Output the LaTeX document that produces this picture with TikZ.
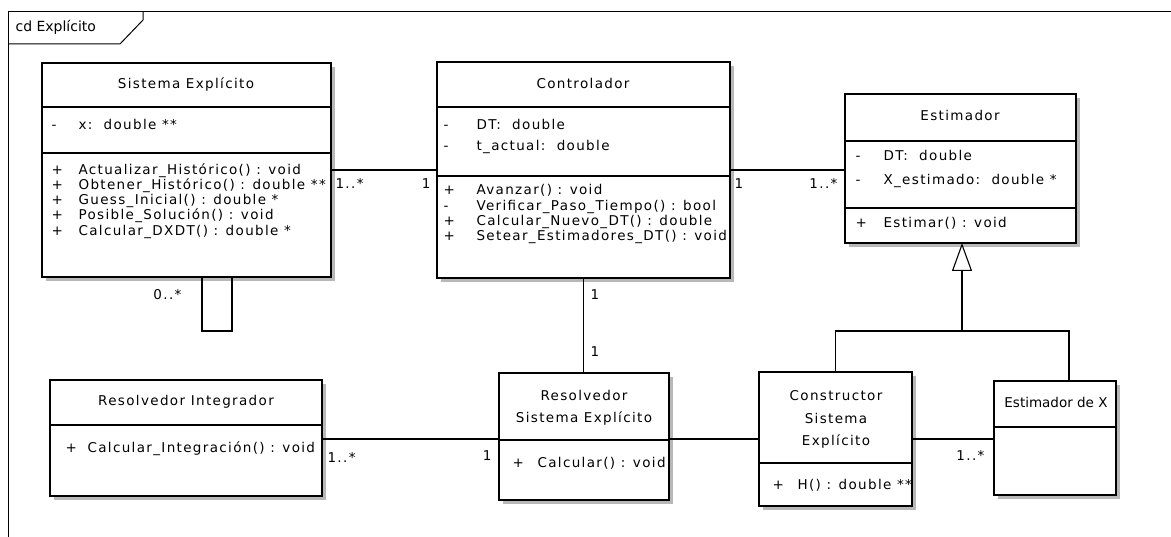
\documentclass[tikz,border=0pt]{standalone}
\usepackage{fontspec}
\newfontfamily\umlf[LetterSpace=10]{DejaVu Sans}
\newfontfamily\umlt[LetterSpace=0]{DejaVu Sans}
\usetikzlibrary{arrows.meta,shadows,calc}
\begin{document}
\begin{tikzpicture}[x=1pt,y=-1pt,line width=1.1pt,
  font=\umlf\fontsize{13.5}{16}\selectfont,
  cls/.style={draw,fill=white,anchor=north west,inner sep=0pt,outer sep=0pt,
    drop shadow={shadow xshift=4pt,shadow yshift=-4pt,fill=black!28,opacity=1}},
  txt/.style={inner sep=0pt,anchor=mid west,text=black},
  ctxt/.style={inner sep=0pt,anchor=mid,text=black},
  multw/.style={inner sep=0pt,anchor=mid west,text=black},
  multe/.style={inner sep=0pt,anchor=mid east,text=black},
  gen/.style={-{Triangle[open,length=28pt,width=20pt]}},
]
\useasboundingbox (0,0) rectangle (1171,537);
% frame
\draw[line width=1pt] (8,537) -- (8,12) -- (1171,12);
\draw[line width=1pt] (8,44) -- (120,44) -- (143,20) -- (143,12);
\node[txt,font=\umlt\fontsize{14}{16}\selectfont] (flabel) at (15,29) {cd Explícito};

% classes
\node[cls,minimum width=289pt,minimum height=214pt] (se) at (42,63) {};
\node[cls,minimum width=293pt,minimum height=216pt] (ctl) at (437,62) {};
\node[cls,minimum width=231pt,minimum height=149pt] (est) at (845,94) {};
\node[cls,minimum width=272pt,minimum height=116pt] (ri) at (50,380) {};
\node[cls,minimum width=170pt,minimum height=127pt] (rse) at (499,373) {};
\node[cls,minimum width=153pt,minimum height=134pt] (cons) at (759,372) {};
\node[cls,minimum width=122pt,minimum height=114pt] (estx) at (994,381) {};

% compartments
\draw (se.west |- 0,107) -- (se.east |- 0,107);
\draw (se.west |- 0,153) -- (se.east |- 0,153);
\draw (ctl.west |- 0,107) -- (ctl.east |- 0,107);
\draw (ctl.west |- 0,176) -- (ctl.east |- 0,176);
\draw (est.west |- 0,141) -- (est.east |- 0,141);
\draw (est.west |- 0,208) -- (est.east |- 0,208);
\draw (ri.west |- 0,425) -- (ri.east |- 0,425);
\draw (rse.west |- 0,440) -- (rse.east |- 0,440);
\draw (cons.west |- 0,463) -- (cons.east |- 0,463);
\draw (estx.west |- 0,427) -- (estx.east |- 0,427);

% Sistema Explícito
\node[ctxt] (seh) at (186,86) {Sistema Explícito};
\node[txt] (sea1v) at (51,127) {-};
\node[txt] (sea1) at (78,127) {x:~~double **};
\node[txt] (sem1v) at (51,172) {+};
\node[txt] (sem1) at (78,172) {Actualizar\_Histórico() : void};
\node[txt] (sem2v) at (51,187) {+};
\node[txt] (sem2) at (78,187) {Obtener\_Histórico() : double **};
\node[txt] (sem3v) at (51,202) {+};
\node[txt] (sem3) at (78,202) {Guess\_Inicial() : double *};
\node[txt] (sem4v) at (51,217.5) {+};
\node[txt] (sem4) at (78,217.5) {Posible\_Solución() : void};
\node[txt] (sem5v) at (51,233) {+};
\node[txt] (sem5) at (78,233) {Calcular\_DXDT() : double *};

% Controlador
\node[ctxt] (ctlh) at (583,86) {Controlador};
\node[txt] (ca1v) at (443,127) {-};
\node[txt] (ca1) at (476,127) {DT:~~double};
\node[txt] (ca2v) at (443,148) {-};
\node[txt] (ca2) at (476,148) {t\_actual:~~double};
\node[txt] (cm1v) at (443,192) {+};
\node[txt] (cm1) at (476,192) {Avanzar() : void};
\node[txt] (cm2v) at (443,208) {-};
\node[txt] (cm2) at (476,208) {Verificar\_Paso\_Tiempo() : bool};
\node[txt] (cm3v) at (443,223) {+};
\node[txt] (cm3) at (476,223) {Calcular\_Nuevo\_DT() : double};
\node[txt] (cm4v) at (443,238) {+};
\node[txt] (cm4) at (476,238) {Setear\_Estimadores\_DT() : void};

% Estimador
\node[ctxt] (esth) at (960,118) {Estimador};
\node[txt] (ea1v) at (855,158) {-};
\node[txt] (ea1) at (883,158) {DT:~~double};
\node[txt] (ea2v) at (855,182) {-};
\node[txt] (ea2) at (883,182) {X\_estimado:~~double *};
\node[txt] (em1v) at (855,225) {+};
\node[txt] (em1) at (883,225) {Estimar() : void};

% Resolvedor Integrador
\node[ctxt] (rih) at (186,403) {Resolvedor Integrador};
\node[txt] (rim1v) at (65,450) {+};
\node[txt] (rim1) at (87,450) {Calcular\_Integración() : void};

% Resolvedor Sistema Explicito
\node[ctxt] (rseh1) at (584,398) {Resolvedor};
\node[ctxt] (rseh2) at (584,420) {Sistema Explícito};
\node[txt] (rsem1v) at (512,465) {+};
\node[txt] (rsem1) at (537,465) {Calcular() : void};

% Constructor
\node[ctxt] (consh1) at (836,398) {Constructor};
\node[ctxt] (consh2) at (836,421) {Sistema};
\node[ctxt] (consh3) at (836,443) {Explícito};
\node[txt] (consm1v) at (772,487) {+};
\node[txt] (consm1) at (797,487) {H() : double **};

% Estimador de X
\node[ctxt,font=\umlt\fontsize{13.5}{16}\selectfont] (estxh) at (1056,405) {Estimador de X};

% connectors
\draw (se.east) -- (ctl.west);
\draw (ctl.east) -- (est.west |- ctl.east);
\draw (ctl.south) -- (ctl.south |- rse.north);
\draw (ri.east |- cons.west) -- (rse.west |- cons.west);
\draw (rse.east |- cons.west) -- (cons.west);
\draw (cons.east) -- (estx.west |- cons.east);
\coordinate (l1) at (202,277);
\coordinate (l2) at (232,277);
\draw (l1) -- ++(0,54) -| (l2);
\coordinate (gj) at (962,331);
\coordinate (xr) at (1069,381);
\draw (cons.north) |- (gj) -| (xr);
\draw[gen] (gj) -- (est.south -| gj);

% multiplicities
\node[multw] (m1) at (335,186) {1..*};
\node[multe] (m2) at (431,186) {1};
\node[multw] (m3) at (734,186) {1};
\node[multe] (m4) at (838,186) {1..*};
\node[multe] (m5) at (182,297) {0..*};
\node[multw] (m6) at (590,297) {1};
\node[multw] (m7) at (590,354) {1};
\node[multw] (m8) at (327,460) {1..*};
\node[multe] (m9) at (492,458) {1};
\node[multe] (m10) at (985,458) {1..*};
\end{tikzpicture}
\end{document}
